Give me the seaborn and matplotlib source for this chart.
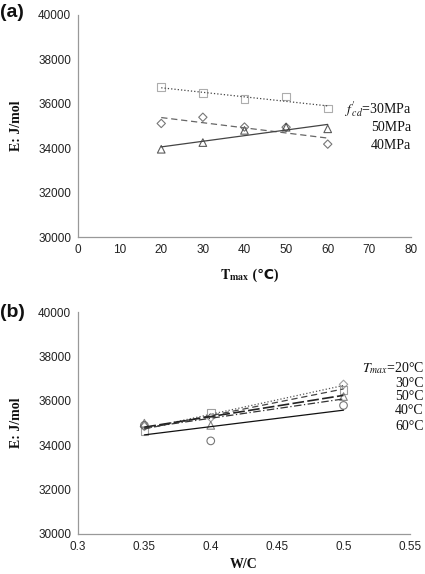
import numpy as np
import matplotlib
matplotlib.use('Agg')
import matplotlib.pyplot as plt
import seaborn as sns

# (a) activation energy vs max curing temperature, per design strength
t_max = [20, 30, 40, 50, 60]
e_30mpa = [36750, 36480, 36220, 36340, 35800]
e_40mpa = [35120, 35400, 34960, 34950, 34190]
e_50mpa = [33960, 34260, 34810, 34950, 34880]
labels_a = [r"$f\,^{\prime}_{cd}$=30MPa", "50MPa", "40MPa"]
label_y_a = [35780, 34960, 34150]

# (b) activation energy vs W/C, per max temperature
wc = [0.35, 0.4, 0.5]
e_20c = [34850, 35250, 36750]
e_30c = [34650, 35470, 36500]
e_40c = [35000, 34900, 36200]
e_50c = [34950, 35100, 36320]
e_60c = [34900, 34200, 35800]
labels_b = [r"$T_{max}$=20°C", "30°C", "50°C", "40°C", "60°C"]
label_y_b = [37490, 36810, 36180, 35550, 34870]

sns.set_theme(style='white')
plt.rcParams['font.family'] = ['Liberation Sans', 'DejaVu Sans']
plt.rcParams['mathtext.fontset'] = 'stix'

SERIF = ['Liberation Serif', 'DejaVu Sans']

fig = plt.figure(figsize=(4.25, 5.74), dpi=100)
ax_a = fig.add_axes([0.1835, 0.5866, 0.7835, 0.3873])
ax_b = fig.add_axes([0.1835, 0.0697, 0.781, 0.3862])


def style_axis(ax):
    for side in ['top', 'right']:
        ax.spines[side].set_visible(False)
    for side in ['left', 'bottom']:
        ax.spines[side].set_color('#999999')
        ax.spines[side].set_linewidth(0.9)
    ax.tick_params(axis='both', direction='out', length=3, width=0.8,
                   color='#999999', labelsize=8.5, labelcolor='#222222', pad=2)
    ax.set_ylim(30000, 40000)
    ax.set_yticks(np.arange(30000, 40001, 2000))
    ax.set_ylabel('E: J/mol', family=SERIF, fontweight='bold',
                  fontsize=10, labelpad=11, color='#111111')


def series(ax, x, y, marker, mcolor, lcolor, ls, ms=30, lw=0.9):
    sns.regplot(x=x, y=y, ax=ax, ci=None, marker=marker,
                scatter_kws={'facecolors': 'none', 'edgecolors': mcolor,
                             's': ms, 'linewidths': 0.8, 'color': None},
                line_kws={'color': lcolor, 'linestyle': ls, 'linewidth': lw})


# panel (a)
series(ax_a, t_max, e_30mpa, 's', '#999999', '#444444', ':')
series(ax_a, t_max, e_40mpa, 'D', '#555555', '#666666', (0, (5, 3)), ms=18)
series(ax_a, t_max, e_50mpa, '^', '#333333', '#444444', '-')
style_axis(ax_a)
ax_a.set_xlim(0, 80)
ax_a.set_xticks(np.arange(0, 81, 10))
ax_a.set_xlabel(r'$\mathbf{T}_{\mathbf{max}}$', fontsize=10, labelpad=8,
                color='#111111')
ax_a.xaxis.label.set_x(0.47)
ax_a.annotate(' (℃)', xy=(1, 0.3), xycoords=ax_a.xaxis.label,
              ha='left', va='baseline', family=SERIF, fontweight='bold',
              fontsize=10, color='#111111', annotation_clip=False)
for lab, yy in zip(labels_a, label_y_a):
    ax_a.text(80, yy, lab, ha='right', va='center', family=SERIF,
              fontsize=10, color='#111111', clip_on=False)

# panel (b)
series(ax_b, wc, e_20c, 'D', '#888888', '#555555', ':', ms=18)
series(ax_b, wc, e_30c, 's', '#888888', '#444444', (0, (5, 3)))
series(ax_b, wc, e_50c, 'x', '#555555', '#222222', (0, (7, 2)), lw=1.2)
series(ax_b, wc, e_40c, '^', '#666666', '#333333', (0, (6, 2, 1, 2)))
series(ax_b, wc, e_60c, 'o', '#555555', '#111111', '-')
style_axis(ax_b)
ax_b.set_xlim(0.3, 0.55)
ax_b.set_xticks([0.3, 0.35, 0.4, 0.45, 0.5, 0.55])
ax_b.set_xticklabels(['0.3', '0.35', '0.4', '0.45', '0.5', '0.55'])
ax_b.set_xlabel('W/C', family=SERIF, fontweight='bold', fontsize=10,
                labelpad=4, color='#111111')
for lab, yy in zip(labels_b, label_y_b):
    ax_b.text(0.5605, yy, lab, ha='right', va='center', family=SERIF,
              fontsize=10, color='#111111', clip_on=False)

fig.text(0.0, 0.978, '(a)', fontsize=14, fontweight='bold', va='center',
         ha='left', color='#111111')
fig.text(0.0, 0.455, '(b)', fontsize=14, fontweight='bold', va='center',
         ha='left', color='#111111')

fig.savefig('out.png', dpi=100)
